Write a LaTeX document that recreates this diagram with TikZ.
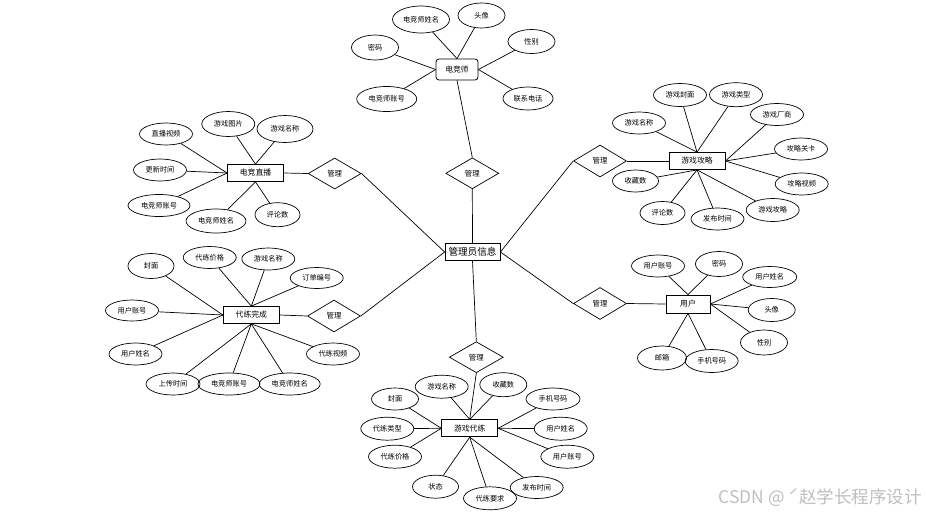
\documentclass[tikz,border=0pt]{standalone}
\usepackage{fontspec}
\setmainfont{Noto Sans CJK SC}
\usetikzlibrary{shapes.geometric}
\begin{document}
\begin{tikzpicture}[x=1pt,y=-1pt,
 attr/.style={ellipse,draw,line width=0.7pt,minimum width=53pt,minimum height=23pt,inner sep=0pt,font=\fontsize{7.2}{8}\selectfont},
 ent/.style={rectangle,draw,line width=0.8pt,minimum width=56pt,minimum height=17pt,inner sep=0pt,font=\fontsize{7.8}{9}\selectfont},
 rel/.style={diamond,draw,line width=0.7pt,minimum width=53pt,minimum height=31pt,inner sep=0pt,font=\fontsize{7.4}{8}\selectfont},
 link/.style={line width=0.7pt}]
\useasboundingbox[fill=white] (0,0) rectangle (926,517);

% center
\node[ent,minimum width=55pt,minimum height=17pt,font=\fontsize{9.6}{11}\selectfont] (admin) at (472.5,252) {管理员信息};

% top: 电竞师
\node[ent,rounded corners=3pt,minimum width=42pt,minimum height=21pt] (djs) at (457,69.5) {电竞师};
\node[attr,minimum width=57pt,minimum height=27pt] (t1) at (421,19.5) {电竞师姓名};
\node[attr,minimum width=47pt,minimum height=25pt] (t2) at (481.5,15.5) {头像};
\node[attr,minimum width=47pt,minimum height=25pt] (t3) at (375,47.5) {密码};
\node[attr,minimum width=47pt,minimum height=24pt] (t4) at (531.5,41.5) {性别};
\node[attr,minimum width=60pt,minimum height=25pt] (t5) at (386.7,99) {电竞师账号};
\node[attr,minimum width=50pt,minimum height=23pt] (t6) at (528,98.5) {联系电话};
\node[rel] (r1) at (472.3,173.3) {管理};
\draw[link] (t1) -- (djs.north);
\draw[link] (t2) -- (djs.north);
\draw[link] (t3) -- (djs.west);
\draw[link] (t5) -- (djs.west);
\draw[link] (t4) -- (djs.east);
\draw[link] (t6) -- (djs.east);
\draw[link] (djs.south) -- (r1.north);
\draw[link] (r1.south) -- (admin.north);

% left top: 电竞直播
\node[ent] (ls) at (255.5,173) {电竞直播};
\node[attr,minimum height=22pt] (ls1) at (166,134) {直播视频};
\node[attr,minimum height=25pt] (ls2) at (228.3,124) {游戏图片};
\node[attr,minimum width=56pt,minimum height=27pt] (ls3) at (285,129) {游戏名称};
\node[attr,minimum height=22pt] (ls4) at (160,170) {更新时间};
\node[attr,minimum width=62pt,minimum height=22pt] (ls5) at (159,205.5) {电竞师账号};
\node[attr,minimum width=60pt,minimum height=24pt] (ls6) at (216,221) {电竞师姓名};
\node[attr,minimum width=45pt,minimum height=24pt] (ls7) at (277.5,214.7) {评论数};
\node[rel] (r2) at (334.7,173.5) {管理};
\draw[link] (ls1) -- (ls.west);
\draw[link] (ls4) -- (ls.west);
\draw[link] (ls5) -- (ls.west);
\draw[link] (ls2) -- (ls.north);
\draw[link] (ls3) -- (ls.north);
\draw[link] (ls6) -- (ls.south);
\draw[link] (ls7) -- (ls.south);
\draw[link] (ls.east) -- (r2.west);
\draw[link] (r2.east) -- (admin.west);

% right top: 游戏攻略
\node[ent] (gl) at (697,161) {游戏攻略};
\node[attr] (gl1) at (680,95) {游戏封面};
\node[attr,minimum height=24pt] (gl2) at (736,94.7) {游戏类型};
\node[attr,minimum height=22pt] (gl3) at (777,114.5) {游戏厂商};
\node[attr,minimum height=22pt] (gl4) at (639,123) {游戏名称};
\node[attr,minimum height=22pt] (gl5) at (801,149) {攻略关卡};
\node[attr,minimum height=22pt] (gl6) at (801.7,184) {攻略视频};
\node[attr,minimum width=46pt,minimum height=22pt] (gl7) at (635.5,181) {收藏数};
\node[attr,minimum width=45pt] (gl8) at (662.5,213) {评论数};
\node[attr,minimum height=22pt] (gl9) at (717.5,219) {发布时间};
\node[attr] (gl10) at (772.7,210) {游戏攻略};
\node[rel,minimum height=32pt] (r3) at (600,161) {管理};
\draw[link] (gl1) -- (gl.north);
\draw[link] (gl2) -- (gl.north);
\draw[link] (gl4) -- (gl.north);
\draw[link] (gl3) -- (gl.east);
\draw[link] (gl5) -- (gl.east);
\draw[link] (gl6) -- (gl.east);
\draw[link] (gl7) -- (gl.south);
\draw[link] (gl8) -- (gl.south);
\draw[link] (gl9) -- (gl.south);
\draw[link] (gl10) -- (gl.south);
\draw[link] (gl.west) -- (r3.east);
\draw[link] (r3.west) -- (admin.east);

% left bottom: 代练完成
\node[ent] (dw) at (251.3,315) {代练完成};
\node[attr,minimum width=46pt,minimum height=25pt] (dw1) at (151,266) {封面};
\node[attr,minimum height=22pt] (dw2) at (209.7,257.5) {代练价格};
\node[attr,minimum height=22pt] (dw3) at (268.3,259) {游戏名称};
\node[attr,minimum height=21pt] (dw4) at (316.7,278) {订单编号};
\node[attr,minimum height=21pt] (dw5) at (132,310.5) {用户账号};
\node[attr,minimum height=22pt] (dw6) at (135.5,354) {用户姓名};
\node[attr,minimum width=54pt,minimum height=22pt] (dw7) at (173,384) {上传时间};
\node[attr,minimum width=62pt,minimum height=22pt] (dw8) at (229,384) {电竞师账号};
\node[attr,minimum width=61pt,minimum height=22pt] (dw9) at (289.7,384) {电竞师姓名};
\node[attr,minimum height=22pt] (dw10) at (333,354) {代练视频};
\node[rel,minimum height=32pt] (r4) at (334,316) {管理};
\draw[link] (dw1) -- (dw.west);
\draw[link] (dw5) -- (dw.west);
\draw[link] (dw6) -- (dw.west);
\draw[link] (dw2) -- (dw.north);
\draw[link] (dw3) -- (dw.north);
\draw[link] (dw4) -- (dw.north);
\draw[link] (dw7) -- (dw.south);
\draw[link] (dw8) -- (dw.south);
\draw[link] (dw9) -- (dw.south);
\draw[link] (dw10) -- (dw.south);
\draw[link] (dw.east) -- (r4.west);
\draw[link] (r4.east) -- (admin.west);

% right: 用户
\node[ent,minimum width=44pt,minimum height=18pt] (yh) at (688,304) {用户};
\node[attr,minimum height=22pt] (yh1) at (658,266) {用户账号};
\node[attr,minimum width=47pt,minimum height=25pt] (yh2) at (719,264) {密码};
\node[attr,minimum width=54pt,minimum height=21pt] (yh3) at (769.7,277) {用户姓名};
\node[attr,minimum width=47pt,minimum height=23pt] (yh4) at (771.7,310) {头像};
\node[attr,minimum width=47pt,minimum height=25pt] (yh5) at (764,342.5) {性别};
\node[attr,minimum width=49pt,minimum height=24pt] (yh6) at (662,358) {邮箱};
\node[attr] (yh7) at (711.7,361) {手机号码};
\node[rel,minimum height=32pt] (r5) at (600,303.5) {管理};
\draw[link] (yh1) -- (yh.north);
\draw[link] (yh2) -- (yh.north);
\draw[link] (yh3) -- (yh.east);
\draw[link] (yh4) -- (yh.east);
\draw[link] (yh5) -- (yh.east);
\draw[link] (yh6) -- (yh.south);
\draw[link] (yh7) -- (yh.south);
\draw[link] (yh.west) -- (r5.east);
\draw[link] (r5.west) -- (admin.east);

% bottom: 游戏代练
\node[ent] (yd) at (469.7,428.3) {游戏代练};
\node[attr] (yd1) at (441.7,386.7) {游戏名称};
\node[attr,minimum width=47pt,minimum height=24pt] (yd2) at (503.3,384.7) {收藏数};
\node[attr,minimum width=47pt,minimum height=22pt] (yd3) at (395,399) {封面};
\node[attr,minimum width=54pt,minimum height=22pt] (yd4) at (553,399) {手机号码};
\node[attr] (yd5) at (387.3,428.7) {代练类型};
\node[attr] (yd6) at (560.7,428.7) {用户姓名};
\node[attr] (yd7) at (395,456.7) {代练价格};
\node[attr] (yd8) at (567.3,456.7) {用户账号};
\node[attr,minimum width=46pt] (yd9) at (435.5,486.7) {状态};
\node[attr] (yd10) at (490,498.3) {代练要求};
\node[attr,minimum height=22pt] (yd11) at (536.7,487.5) {发布时间};
\node[rel,minimum width=54pt] (r6) at (476.3,357.2) {管理};
\draw[link] (yd1) -- (yd.north);
\draw[link] (yd2) -- (yd.north);
\draw[link] (yd3) -- (yd.west);
\draw[link] (yd5) -- (yd.west);
\draw[link] (yd7) -- (yd.west);
\draw[link] (yd4) -- (yd.east);
\draw[link] (yd6) -- (yd.east);
\draw[link] (yd8) -- (yd.east);
\draw[link] (yd9) -- (yd.south);
\draw[link] (yd10) -- (yd.south);
\draw[link] (yd11) -- (yd.south);
\draw[link] (admin.south) -- (r6.north);
\draw[link] (r6.south) -- (yd.north);

% watermark
\node[anchor=east,text=black!25,font=\fontsize{17.5}{20}\selectfont,inner sep=0pt] (wm) at (922,498) {CSDN @ ˊ赵学长程序设计};
\end{tikzpicture}
\end{document}
